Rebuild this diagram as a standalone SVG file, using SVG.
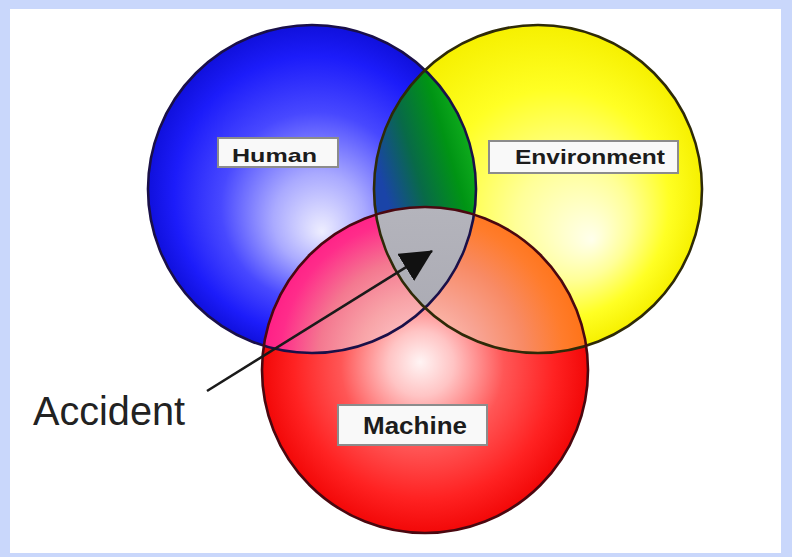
<svg xmlns="http://www.w3.org/2000/svg" width="792" height="557" viewBox="0 0 792 557">
  <defs>
    <style>
      .box { fill: #f9f9f9; stroke: #8c8c8c; stroke-width: 2; }
      .lbl { font-family: "Liberation Sans", Arial, sans-serif; font-weight: bold; fill: #1c1c1c; }
      .accident { font-family: "Liberation Sans", Arial, sans-serif; fill: #222; }
      .leader { stroke: #1a1a1a; stroke-width: 2.6; fill: none; }
    </style>

    <!-- circle geometry reused for fills, clips and outlines -->
    <clipPath id="clipBlue"><circle cx="312" cy="189" r="164"/></clipPath>
    <clipPath id="clipYellow"><circle cx="538" cy="189" r="164"/></clipPath>
    <clipPath id="clipRed"><circle cx="425" cy="370" r="163"/></clipPath>

    <radialGradient id="gBlue" gradientUnits="userSpaceOnUse" cx="312" cy="189" r="164" fx="322" fy="232">
      <stop offset="0" stop-color="#eeeeff"/>
      <stop offset="0.28" stop-color="#aaaaff"/>
      <stop offset="0.58" stop-color="#4848ff"/>
      <stop offset="0.85" stop-color="#1c1cfa"/>
      <stop offset="1" stop-color="#1010dc"/>
    </radialGradient>
    <radialGradient id="gYellow" gradientUnits="userSpaceOnUse" cx="538" cy="189" r="164" fx="592" fy="240">
      <stop offset="0" stop-color="#ffffec"/>
      <stop offset="0.35" stop-color="#ffff98"/>
      <stop offset="0.7" stop-color="#ffff24"/>
      <stop offset="1" stop-color="#f6f000"/>
    </radialGradient>
    <radialGradient id="gRed" gradientUnits="userSpaceOnUse" cx="425" cy="370" r="163" fx="420" fy="362">
      <stop offset="0" stop-color="#fff4f4"/>
      <stop offset="0.2" stop-color="#ffc4c4"/>
      <stop offset="0.5" stop-color="#ff5656"/>
      <stop offset="0.8" stop-color="#ff2222"/>
      <stop offset="1" stop-color="#f20808"/>
    </radialGradient>
    <radialGradient id="gPink" gradientUnits="userSpaceOnUse" cx="420" cy="360" r="175">
      <stop offset="0" stop-color="#ffd4d4"/>
      <stop offset="0.35" stop-color="#f8a4a8"/>
      <stop offset="0.58" stop-color="#f47890"/>
      <stop offset="0.8" stop-color="#ff2c8a"/>
      <stop offset="1" stop-color="#ff1282"/>
    </radialGradient>
    <radialGradient id="gOrange" gradientUnits="userSpaceOnUse" cx="420" cy="360" r="175">
      <stop offset="0" stop-color="#ffd4cc"/>
      <stop offset="0.35" stop-color="#f8a494"/>
      <stop offset="0.6" stop-color="#f88a64"/>
      <stop offset="0.82" stop-color="#ff7c2c"/>
      <stop offset="1" stop-color="#ff7010"/>
    </radialGradient>
    <linearGradient id="gGreen" gradientUnits="userSpaceOnUse" x1="378" y1="170" x2="478" y2="140">
      <stop offset="0" stop-color="#1a44a8"/>
      <stop offset="0.35" stop-color="#086a48"/>
      <stop offset="0.7" stop-color="#009414"/>
      <stop offset="1" stop-color="#14b420"/>
    </linearGradient>
    <linearGradient id="gGray" x1="0" y1="0" x2="0" y2="1">
      <stop offset="0" stop-color="#b4b4bc"/>
      <stop offset="1" stop-color="#9a9aa4"/>
    </linearGradient>

    <marker id="arrow" viewBox="0 0 32 32" refX="31" refY="16" markerWidth="32" markerHeight="32" markerUnits="userSpaceOnUse" orient="auto">
      <path d="M0,0 L32,16 L0,32 Z" fill="#111"/>
    </marker>
  </defs>

  <!-- page frame -->
  <rect x="0" y="0" width="792" height="557" fill="#c9d7fb"/>
  <rect x="10" y="9" width="771" height="544" fill="#ffffff"/>

  <!-- base circle fills -->
  <g id="human">
    <circle cx="312" cy="189" r="164" fill="url(#gBlue)"/>
  </g>
  <g id="environment">
    <circle cx="538" cy="189" r="164" fill="url(#gYellow)"/>
  </g>
  <g id="machine">
    <circle cx="425" cy="370" r="163" fill="url(#gRed)"/>
  </g>

  <!-- overlap regions -->
  <g id="overlaps">
    <g clip-path="url(#clipBlue)">
      <circle cx="538" cy="189" r="164" fill="url(#gGreen)"/>
      <circle cx="425" cy="370" r="163" fill="url(#gPink)"/>
    </g>
    <g clip-path="url(#clipYellow)">
      <circle cx="425" cy="370" r="163" fill="url(#gOrange)"/>
    </g>
    <g clip-path="url(#clipBlue)">
      <g clip-path="url(#clipYellow)">
        <circle cx="425" cy="370" r="163" fill="url(#gGray)"/>
      </g>
    </g>
  </g>

  <!-- circle outlines -->
  <g id="outlines" fill="none" stroke-width="2.6">
    <circle cx="312" cy="189" r="164" stroke="#1a1048"/>
    <circle cx="538" cy="189" r="164" stroke="#2e2a08"/>
    <circle cx="425" cy="370" r="163" stroke="#4a0810"/>
  </g>

  <!-- labels -->
  <g id="human-label">
    <rect class="box" x="218" y="138" width="120" height="29"/>
    <text class="lbl" x="232" y="162" font-size="19" textLength="85" lengthAdjust="spacingAndGlyphs">Human</text>
  </g>
  <g id="environment-label">
    <rect class="box" x="489" y="141" width="189" height="32"/>
    <text class="lbl" x="515" y="164" font-size="20" textLength="150" lengthAdjust="spacingAndGlyphs">Environment</text>
  </g>
  <g id="machine-label">
    <rect class="box" x="338" y="405" width="149" height="40"/>
    <text class="lbl" x="363" y="434" font-size="23" textLength="104" lengthAdjust="spacingAndGlyphs">Machine</text>
  </g>
  <g id="accident">
    <text class="accident" x="33" y="425" font-size="40" textLength="152" lengthAdjust="spacingAndGlyphs">Accident</text>
  </g>

  <!-- connectors -->
  <g id="connectors">
    <line class="leader" x1="207" y1="391" x2="432" y2="251" marker-end="url(#arrow)"/>
  </g>
</svg>
